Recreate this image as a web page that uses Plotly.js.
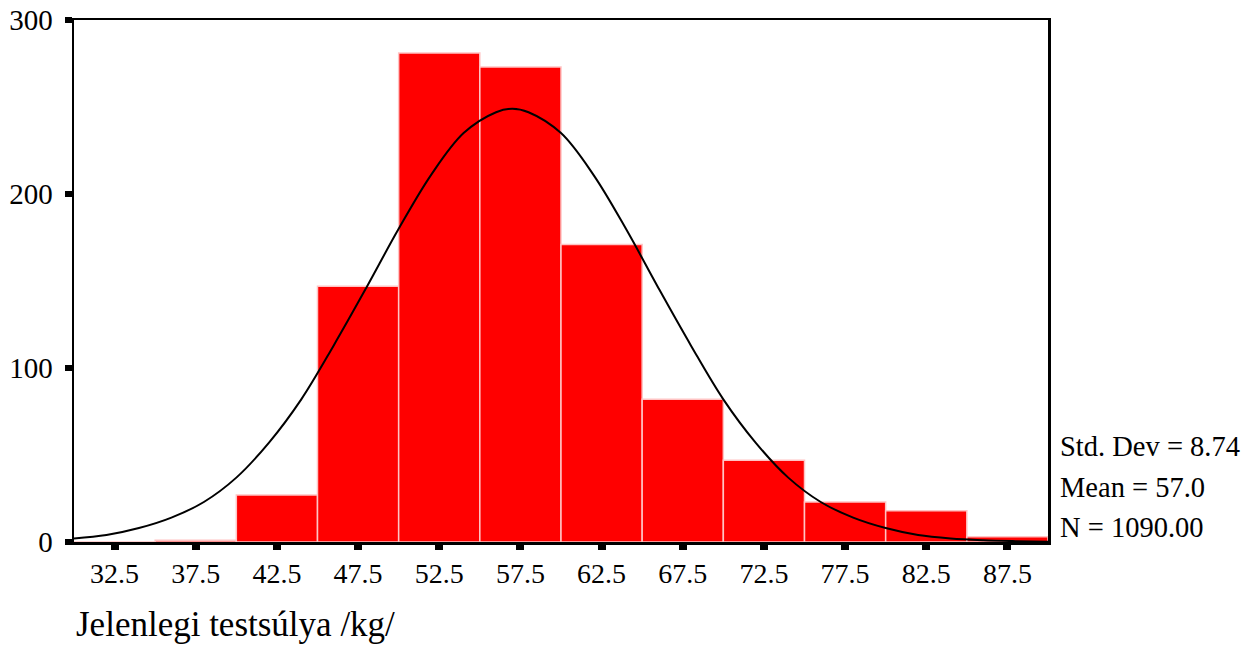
<!DOCTYPE html>
<html>
<head>
<meta charset="utf-8">
<script src="https://cdn.plot.ly/plotly-3.0.1.min.js"></script>
<style>
  html, body { margin: 0; padding: 0; background: #ffffff; }
  #chart { width: 1243px; height: 661px; }
</style>
</head>
<body>
<div id="chart"></div>
<script>
// Histogram bins (midpoints) and counts
const binCenters = [32.5, 37.5, 42.5, 47.5, 52.5, 57.5, 62.5, 67.5, 72.5, 77.5, 82.5, 87.5];
const binCounts  = [0, 1, 27, 147, 281, 273, 171, 82, 47, 23, 18, 3];

// Fitted normal curve
const curveX = [30, 32, 34, 36, 38, 40, 42, 44, 46, 48, 50, 52, 54, 56, 57, 58, 60, 62, 64, 66, 68, 70, 72, 74, 76, 78, 80, 82, 84, 86, 88, 90];
const curveY = [2, 4, 8, 14, 23, 37, 57, 82, 113, 146, 180, 211, 235, 247, 249, 247, 235, 211, 180, 146, 113, 82, 57, 37, 23, 14, 8, 4, 2, 1, 0.5, 0.2];

const tickVals = [32.5, 37.5, 42.5, 47.5, 52.5, 57.5, 62.5, 67.5, 72.5, 77.5, 82.5, 87.5];
const tickText = ["32.5", "37.5", "42.5", "47.5", "52.5", "57.5", "62.5", "67.5", "72.5", "77.5", "82.5", "87.5"];
const yTickVals = [0, 100, 200, 300];

const statsLines = ["Std. Dev = 8.74", "Mean = 57.0", "N = 1090.00"];
const xTitle = "Jelenlegi testsúlya /kg/";

const FONT = "'Liberation Serif', 'Times New Roman', serif";

const traces = [
  {
    type: "bar",
    x: binCenters,
    y: binCounts,
    width: 5,
    marker: { color: "#ff0000", line: { color: "#ffc4c4", width: 1.5 } },
    hoverinfo: "x+y"
  },
  {
    type: "scatter",
    mode: "lines",
    x: curveX,
    y: curveY,
    line: { color: "#000000", width: 2, shape: "spline" },
    hoverinfo: "skip"
  }
];

const statY = [0.183, 0.104, 0.028];
const annotations = statsLines.map((t, i) => ({
  text: t,
  xref: "paper", yref: "paper",
  x: 1.0105, y: statY[i],
  xanchor: "left", yanchor: "middle",
  showarrow: false,
  font: { family: FONT, size: 28.5, color: "#000" }
}));
annotations.push({
  text: xTitle,
  xref: "paper", yref: "paper",
  x: 0, y: -0.158,
  xanchor: "left", yanchor: "middle",
  showarrow: false,
  font: { family: FONT, size: 35, color: "#000" }
});

const layout = {
  width: 1243,
  height: 661,
  margin: { l: 74, r: 195, t: 20, b: 119, pad: 0 },
  paper_bgcolor: "#ffffff",
  plot_bgcolor: "#ffffff",
  showlegend: false,
  bargap: 0,
  font: { family: FONT, size: 28, color: "#000" },
  xaxis: {
    range: [30, 90],
    tickmode: "array",
    tickvals: tickVals,
    ticktext: tickText,
    ticks: "outside",
    ticklen: 5,
    tickwidth: 8,
    tickcolor: "#000",
    ticklabelstandoff: 0,
    showgrid: false,
    zeroline: false,
    showline: true,
    linecolor: "#000",
    linewidth: 2.5,
    mirror: true,
    tickfont: { family: FONT, size: 28, color: "#000" }
  },
  yaxis: {
    range: [0, 300],
    tickmode: "array",
    tickvals: yTickVals,
    ticks: "outside",
    ticklen: 7,
    tickwidth: 6,
    tickcolor: "#000",
    ticklabelstandoff: 6,
    showgrid: false,
    zeroline: false,
    showline: true,
    linecolor: "#000",
    linewidth: 2.5,
    mirror: true,
    tickfont: { family: FONT, size: 29, color: "#000" }
  },
  annotations: annotations
};

Plotly.newPlot("chart", traces, layout, { displayModeBar: false, staticPlot: true });
</script>
</body>
</html>
